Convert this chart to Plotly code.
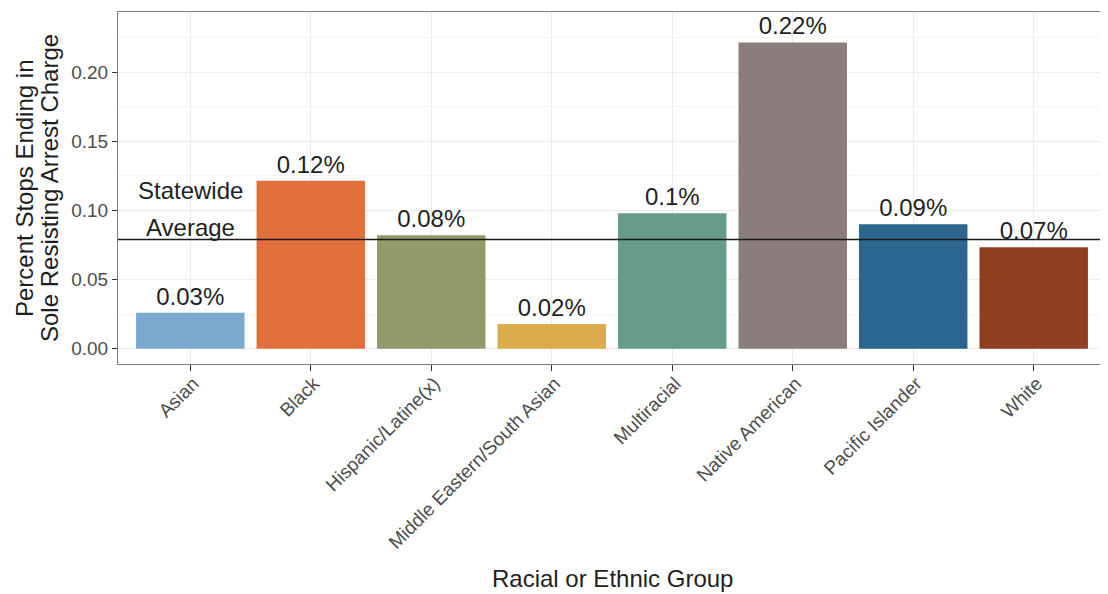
import plotly.graph_objects as go

categories = ["Asian", "Black", "Hispanic/Latine(x)", "Middle Eastern/South Asian",
              "Multiracial", "Native American", "Pacific Islander", "White"]
values = [0.026, 0.1215, 0.082, 0.018, 0.098, 0.2215, 0.090, 0.0735]
labels = ["0.03%", "0.12%", "0.08%", "0.02%", "0.1%", "0.22%", "0.09%", "0.07%"]
colors = ["#7aaad2", "#e2703c", "#939a6a", "#dcac4c", "#679c8b", "#8a7d7c", "#2b6690", "#8e3f20"]
statewide_avg = 0.079
y_ticks = [0.00, 0.05, 0.10, 0.15, 0.20]
y_tick_labels = ["0.00", "0.05", "0.10", "0.15", "0.20"]
y_title_lines = ["Percent Stops Ending in", "Sole Resisting Arrest Charge"]
x_title = "Racial or Ethnic Group"

FONT = "Liberation Sans, Arial, sans-serif"
DARK = "#1f1f1f"

fig = go.Figure()
fig.add_trace(go.Bar(
    x=categories, y=values, marker=dict(color=colors, line=dict(width=0)),
    width=0.9, text=labels, textposition="outside",
    textfont=dict(family=FONT, size=24, color=DARK),
    cliponaxis=False, showlegend=False,
))

fig.add_shape(type="line", xref="paper", x0=0, x1=1, yref="y",
              y0=statewide_avg, y1=statewide_avg,
              line=dict(color="#1a1a1a", width=1.5))

fig.add_annotation(x=categories[0], y=statewide_avg, text="Average", showarrow=False,
                   yanchor="middle", yshift=12, font=dict(family=FONT, size=24, color=DARK))
fig.add_annotation(x=categories[0], y=statewide_avg, text="Statewide", showarrow=False,
                   yanchor="middle", yshift=49, font=dict(family=FONT, size=24, color=DARK))

# y-axis title, two lines
fig.add_annotation(xref="paper", yref="paper", x=0, y=0.5, text=y_title_lines[0],
                   textangle=-90, showarrow=False, xanchor="center", yanchor="middle",
                   xshift=-94, font=dict(family=FONT, size=24, color=DARK))
fig.add_annotation(xref="paper", yref="paper", x=0, y=0.5, text=y_title_lines[1],
                   textangle=-90, showarrow=False, xanchor="center", yanchor="middle",
                   xshift=-69, font=dict(family=FONT, size=24, color=DARK))
# x-axis title
fig.add_annotation(xref="paper", yref="paper", x=0.5, y=0, text=x_title,
                   showarrow=False, xanchor="center", yanchor="middle",
                   yshift=-214, font=dict(family=FONT, size=24, color=DARK))

fig.update_layout(
    width=1108, height=594,
    margin=dict(l=110, r=10, t=4, b=238),
    paper_bgcolor="white", plot_bgcolor="white",
    bargap=0.1,
    font=dict(family=FONT),
)
fig.update_xaxes(
    tickangle=-45, tickfont=dict(family=FONT, size=19, color="#4d4d4d"),
    showgrid=True, gridcolor="#ebebeb", gridwidth=1,
    ticks="outside", ticklen=6, tickcolor="#333333",
    ticklabelstandoff=-6, ticklabelshift=3,
    showline=True, linecolor="#7f7f7f", mirror=True, linewidth=1,
    range=[-0.6, 7.6], automargin=False,
)
fig.update_yaxes(
    range=[-0.011, 0.2435],
    tickvals=y_ticks, ticktext=y_tick_labels,
    tickfont=dict(family=FONT, size=19, color="#4d4d4d"),
    showgrid=True, gridcolor="#ebebeb", gridwidth=1,
    minor=dict(tickvals=[0.025, 0.075, 0.125, 0.175, 0.225], showgrid=True, gridcolor="#f4f4f4", gridwidth=0.6),
    ticks="outside", ticklen=5, tickcolor="#333333",
    showline=True, linecolor="#7f7f7f", mirror=True, linewidth=1,
    zeroline=False, automargin=False,
)

fig.write_html("out.html")
